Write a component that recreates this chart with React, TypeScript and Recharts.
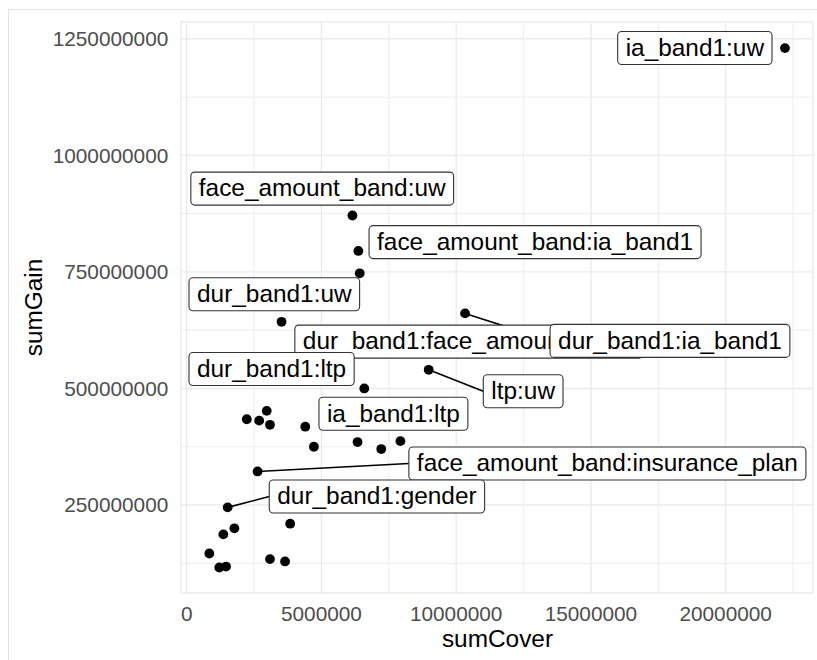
import { ScatterChart, Scatter, XAxis, YAxis, CartesianGrid, ReferenceLine } from 'recharts';

// interaction terms; null = point drawn without a label
const terms: (string | null)[] = [
  'ia_band1:uw',
  'face_amount_band:uw',
  'face_amount_band:ia_band1',
  'dur_band1:uw',
  'dur_band1:face_amount_band',
  'dur_band1:ia_band1',
  'dur_band1:ltp',
  'ltp:uw',
  'ia_band1:ltp',
  'face_amount_band:insurance_plan',
  'dur_band1:gender',
  null, null, null, null, null, null, null, null,
  null, null, null, null, null, null, null, null,
];
const sumCover = [
  22200000, 6150000, 6370000, 6420000, 3520000, 10330000, 6590000, 8980000, 4400000, 2630000, 1520000,
  2230000, 2690000, 2970000, 3090000, 4720000, 6340000, 7220000, 7930000,
  3840000, 1770000, 1360000, 840000, 1210000, 1460000, 3090000, 3650000,
];
const sumGain = [
  1230000000, 871000000, 795000000, 747000000, 643000000, 661000000, 500000000, 540000000, 418000000, 322000000, 245000000,
  434000000, 431000000, 452000000, 422000000, 375000000, 385000000, 370000000, 387000000,
  210000000, 200000000, 187000000, 146000000, 116000000, 118000000, 134000000, 129000000,
];
const xTicks = [0, 5000000, 10000000, 15000000, 20000000];
const yTicks = [250000000, 500000000, 750000000, 1000000000, 1250000000];
const xMinor = [2500000, 7500000, 12500000, 17500000, 22500000];
const yMinor = [125000000, 375000000, 625000000, 875000000, 1125000000];

// repelled label placement: box offset from the point (px), and whether a segment is drawn
const labelLayout: Record<string, { dx: number; dy: number; seg?: boolean }> = {
  'ia_band1:uw': { dx: -167.3, dy: -16.6 },
  'face_amount_band:uw': { dx: -161.6, dy: -43.4 },
  'face_amount_band:ia_band1': { dx: 10.7, dy: -25.3 },
  'dur_band1:uw': { dx: -170.7, dy: 4.4 },
  'dur_band1:face_amount_band': { dx: 13.3, dy: 3.3 },
  'dur_band1:ia_band1': { dx: 85, dy: 11, seg: true },
  'dur_band1:ltp': { dx: -175.3, dy: -36 },
  'ltp:uw': { dx: 54.6, dy: 5, seg: true },
  'ia_band1:ltp': { dx: 13.7, dy: -29.4 },
  'face_amount_band:insurance_plan': { dx: 151.3, dy: -24.4, seg: true },
  'dur_band1:gender': { dx: 41.6, dy: -27.3, seg: true },
};

const FONT = '"Liberation Sans", Arial, sans-serif';
const LABEL_SIZE = 24.4;
const BOX_H = 33;
const PAD = 8;

const points = sumCover.map((x, i) => ({ x, y: sumGain[i], term: terms[i] }));
const labelled = points.filter((p) => p.term);

let ctx: CanvasRenderingContext2D | null = null;
function textWidth(s: string) {
  if (!ctx) ctx = document.createElement('canvas').getContext('2d');
  if (!ctx) return s.length * LABEL_SIZE * 0.55;
  ctx.font = `${LABEL_SIZE}px "Liberation Sans"`;
  return ctx.measureText(s).width;
}

const Dot = (props: any) => <circle cx={props.cx} cy={props.cy} r={4.9} fill="#000" />;

const Segment = (props: any) => {
  const lay = labelLayout[props.payload.term];
  if (!lay || !lay.seg) return <g />;
  const x2 = props.cx + lay.dx;
  const y2 = props.cy + lay.dy + BOX_H / 2;
  return <line x1={props.cx} y1={props.cy} x2={x2} y2={y2} stroke="#000" strokeWidth={1.6} />;
};

const LabelBox = (props: any) => {
  const term: string = props.payload.term;
  const lay = labelLayout[term];
  if (!lay) return <g />;
  const left = props.cx + lay.dx;
  const top = props.cy + lay.dy;
  const w = textWidth(term) + PAD * 2;
  return (
    <g>
      <rect x={left} y={top} width={w} height={BOX_H} rx={4} ry={4} fill="#fff" stroke="#333" strokeWidth={1.1} />
      <text x={left + PAD} y={top + 24.3} fontSize={LABEL_SIZE} fontFamily={FONT} fill="#000">
        {term}
      </text>
    </g>
  );
};

export default function App() {
  const tick = { fill: '#4d4d4d', fontSize: 20.8, fontFamily: FONT };
  return (
    <div style={{ position: 'fixed', left: 0, top: 0, width: 817, height: 660, overflow: 'hidden', background: '#fff' }}>
      <div
        style={{
          position: 'absolute',
          left: 8,
          top: 9,
          width: 900,
          height: 700,
          borderTop: '1.5px solid #e3e3e3',
          borderLeft: '1.5px solid #e3e3e3',
        }}
      />
      <div style={{ position: 'absolute', left: 0, top: 0 }}>
        <ScatterChart width={817} height={660} margin={{ top: 22, right: 4, bottom: 0, left: 0 }}>
          <CartesianGrid stroke="#ebebeb" strokeWidth={1.4} />
          {xMinor.map((v) => (
            <ReferenceLine key={'vx' + v} x={v} stroke="#efefef" strokeWidth={1.2} />
          ))}
          {yMinor.map((v) => (
            <ReferenceLine key={'hy' + v} y={v} stroke="#efefef" strokeWidth={1.2} />
          ))}
          <XAxis
            type="number"
            dataKey="x"
            domain={[-211000, 23240000]}
            ticks={xTicks}
            interval={0}
            allowDataOverflow
            axisLine={false}
            tickLine={false}
            tickSize={0}
            tickMargin={13}
            height={67}
            tick={tick}
          />
          <YAxis
            type="number"
            dataKey="y"
            domain={[61300000, 1286000000]}
            ticks={yTicks}
            interval={0}
            allowDataOverflow
            axisLine={false}
            tickLine={false}
            tickSize={0}
            tickMargin={12.7}
            width={181}
            tick={tick}
          />
          <Scatter data={points} shape={Dot} isAnimationActive={false} />
          <Scatter data={labelled} shape={Segment} isAnimationActive={false} />
          <Scatter data={labelled} shape={LabelBox} isAnimationActive={false} />
        </ScatterChart>
      </div>
      <svg width={817} height={660} style={{ position: 'absolute', left: 0, top: 0, pointerEvents: 'none' }}>
        <text x={497.5} y={646.5} textAnchor="middle" fontSize={24.4} fontFamily={FONT} fill="#000">
          sumCover
        </text>
        <text transform="translate(41.5,307.5) rotate(-90)" textAnchor="middle" fontSize={24.4} fontFamily={FONT} fill="#000">
          sumGain
        </text>
      </svg>
    </div>
  );
}
